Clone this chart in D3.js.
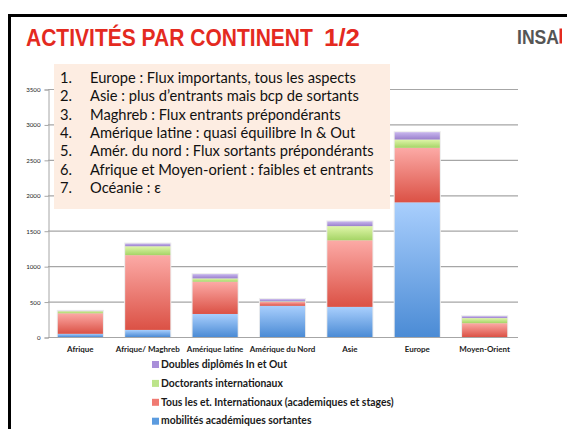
<!DOCTYPE html>
<html><head><meta charset="utf-8">
<script src="https://cdn.jsdelivr.net/npm/d3@7"></script>
<style>html,body{margin:0;padding:0;background:#fff;overflow:hidden}</style>
</head><body>
<svg id="c" width="567" height="429"></svg>
<script>
const categories = ["Afrique","Afrique/ Maghreb","Amérique latine","Amérique du Nord","Asie","Europe","Moyen-Orient"];
const seriesNames = ["mobilités académiques sortantes","Tous les et. Internationaux (academiques et stages)","Doctorants internationaux","Doubles diplômés In et Out"];
const mobilitesSortantes = [45, 100, 325, 440, 425, 1900, 0];
const tousEtudiants     = [290, 1055, 455, 55, 940, 770, 195];
const doctorants        = [30, 126, 47, 8, 200, 117, 72];
const doublesDiplomes   = [4, 38, 60, 32, 66, 103, 27];
const yTicks = [0, 500, 1000, 1500, 2000, 2500, 3000, 3500];
const notes = ["Europe : Flux importants, tous les aspects","Asie : plus d’entrants mais bcp de sortants","Maghreb : Flux entrants prépondérants","Amérique latine : quasi équilibre In & Out","Amér. du nord : Flux sortants prépondérants","Afrique et Moyen-orient : faibles et entrants","Océanie : ε"];

const svg = d3.select("#c");
const seriesData = [mobilitesSortantes, tousEtudiants, doctorants, doublesDiplomes];
const grads = [["#a9cffd","#4b8bd5"],["#fcaaa6","#db5145"],["#e0f6a9","#a5d466"],["#c8b6ee","#9a80cc"]];
const legendColors = ["#5b9bdf","#f07a72","#bce48a","#a98fd9"];

const defs = svg.append("defs");
grads.forEach((g,i)=>{
  const lg = defs.append("linearGradient").attr("id","g"+i).attr("x1",0).attr("y1",0).attr("x2",0).attr("y2",1);
  lg.append("stop").attr("offset","0%").attr("stop-color",g[0]);
  lg.append("stop").attr("offset","100%").attr("stop-color",g[1]);
});

// slide frame
svg.append("path").attr("d","M9.5,430 V15.5 H570").attr("fill","none").attr("stroke","#000").attr("stroke-width",3);

// title (fit width, stretch height)
function fitText(txt, x0, base, w, h, size, color){
  const t = svg.append("text").attr("x",0).attr("y",0).attr("fill",color)
    .attr("font-family","Liberation Sans, Arial, sans-serif").attr("font-weight","bold").attr("font-size",size).text(txt);
  const nw = t.node().getComputedTextLength();
  t.attr("transform",`translate(${x0},${base}) scale(${w/nw},${h})`);
  return t;
}
fitText("ACTIVITÉS PAR CONTINENT", 26, 46, 287, 1.12, 21, "#e42a1f");
fitText("1/2", 324, 46, 36, 1.12, 21, "#e42a1f");
fitText("INSA", 517, 43.5, 42, 1.0, 20, "#555");
svg.append("rect").attr("x",559.5).attr("y",28.5).attr("width",2.5).attr("height",15).attr("fill","#e42a1f");

// chart
const x = d3.scaleBand().domain(categories).range([47,518]).paddingInner(0.33).paddingOuter(0.16);
const y = d3.scaleLinear().domain([0,3500]).range([337,89]);

const grid = svg.append("g");
grid.selectAll("line").data(yTicks.filter(d=>d>0)).join("line")
  .attr("x1",48).attr("x2",518).attr("y1",d=>y(d)+0.5).attr("y2",d=>y(d)+0.5)
  .attr("stroke","#a6a6a6").attr("stroke-width",1.2);

const yAxis = svg.append("g").attr("transform","translate(48.5,0.5)")
  .call(d3.axisLeft(y).tickValues(yTicks).tickSize(4).tickPadding(4).tickFormat(d3.format("d")));
yAxis.select(".domain").attr("stroke","#a6a6a6");
yAxis.selectAll(".tick line").attr("stroke","#a6a6a6");
yAxis.selectAll(".tick text").attr("font-family","Lato, sans-serif").attr("font-size",6.2).attr("fill","#222");

const stack = d3.stack().keys([0,1,2,3]);
const rows = categories.map((c,i)=>{ const o={cat:c}; seriesData.forEach((s,k)=>o[k]=s[i]); return o; });
const stacked = stack(rows);

// soft shadow outline
svg.append("g").selectAll("rect").data(rows).join("rect")
  .attr("x",d=>x(d.cat)-1).attr("width",x.bandwidth()+2)
  .attr("y",d=>y(d[0]+d[1]+d[2]+d[3])-1)
  .attr("height",d=>337-y(d[0]+d[1]+d[2]+d[3])+1)
  .attr("fill","#ececec");

svg.append("g").selectAll("g").data(stacked).join("g")
  .attr("fill",(d,i)=>"url(#g"+i+")")
  .selectAll("rect").data(d=>d).join("rect")
  .attr("x",d=>x(d.data.cat)).attr("width",x.bandwidth())
  .attr("y",d=>y(d[1])).attr("height",d=>Math.max(0,y(d[0])-y(d[1])));

const xAxis = svg.append("g").attr("transform","translate(0,337.5)")
  .call(d3.axisBottom(x).tickSize(0).tickPadding(9));
xAxis.select(".domain").attr("stroke","#a6a6a6").attr("d","M48,0H518");
xAxis.selectAll(".tick text").attr("font-family","Lato, sans-serif").attr("font-weight","bold").attr("font-size",7).attr("fill","#222");
{
  const t = xAxis.selectAll(".tick text").filter(d=>d==="Afrique/ Maghreb").node();
  const w = t.getComputedTextLength();
  const fs = 7*64/w;
  xAxis.selectAll(".tick text").attr("font-size",fs);
}

// legend
const legendOrder = [3,2,1,0];
const lg = svg.append("g");
legendOrder.forEach((k,j)=>{
  const cy = 364.5 + j*18.9;
  lg.append("rect").attr("x",152).attr("y",cy-3.5).attr("width",7).attr("height",7).attr("fill",legendColors[k]);
  lg.append("text").attr("class","lt").attr("x",161).attr("y",cy+3.2).attr("font-family","Lato, sans-serif")
    .attr("font-weight","bold").attr("font-size",9).attr("fill","#1a1a1a").text(seriesNames[k]);
});
{
  const t = lg.selectAll(".lt").filter(function(){return this.textContent.startsWith("Tous");}).node();
  const fs = 9*233/t.getComputedTextLength();
  lg.selectAll(".lt").attr("font-size",fs);
}

// notes box
svg.append("rect").attr("x",54).attr("y",64).attr("width",336).attr("height",145).attr("fill","#fdede2");
const ng = svg.append("g");
notes.forEach((n,i)=>{
  const by = 83 + i*18.35;
  ng.append("text").attr("x",60).attr("y",by).attr("font-family","Lato, sans-serif").attr("font-size",14).attr("fill","#111").text((i+1)+".");
  ng.append("text").attr("class","nt").attr("x",90).attr("y",by).attr("font-family","Lato, sans-serif").attr("font-size",14).attr("fill","#111").text(n);
});
{
  const t = ng.selectAll(".nt").nodes()[1];
  const fs = 14*269/t.getComputedTextLength();
  ng.selectAll("text").attr("font-size",fs);
}
</script>
</body></html>
